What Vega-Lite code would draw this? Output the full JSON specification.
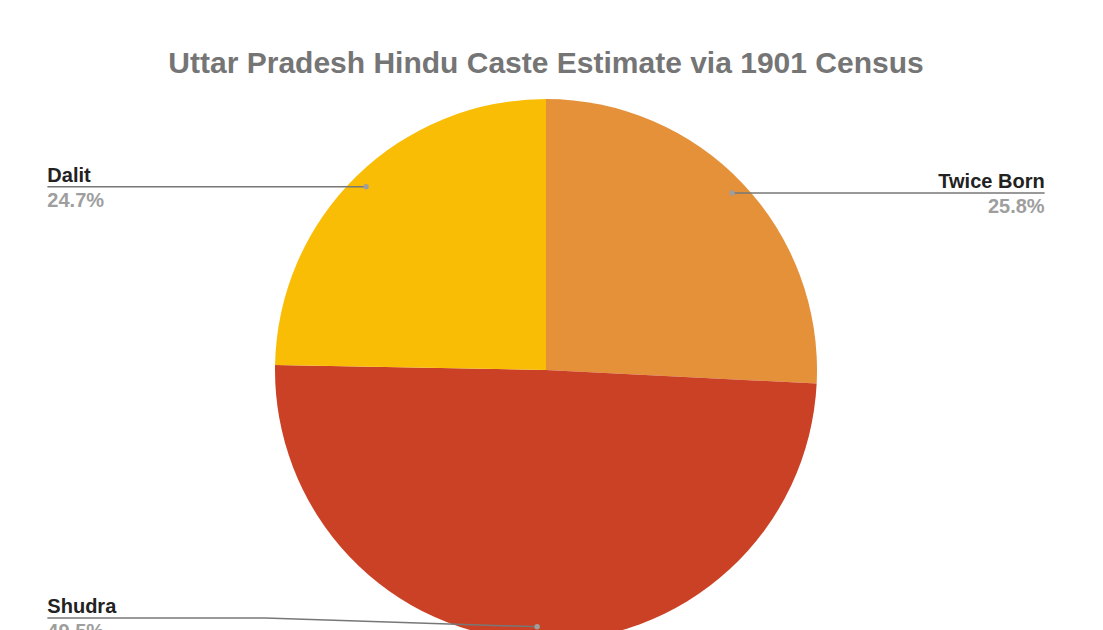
{
  "$schema": "https://vega.github.io/schema/vega-lite/v6.json",
  "width": 1092,
  "height": 540,
  "autosize": {"type": "none"},
  "padding": {"top": 100, "left": 0, "right": 0, "bottom": 0},
  "background": "white",
  "title": {
    "text": "Uttar Pradesh Hindu Caste Estimate via 1901 Census",
    "font": "Liberation Sans",
    "fontSize": 30,
    "fontWeight": "bold",
    "color": "#757575",
    "anchor": "middle",
    "offset": 20
  },
  "config": {"view": {"stroke": null}},
  "data": {
    "values": [
      {"caste": "Twice Born", "share": 25.8},
      {"caste": "Shudra", "share": 49.5},
      {"caste": "Dalit", "share": 24.7}
    ]
  },
  "transform": [
    {"stack": "share", "groupby": [], "sort": [{"field": "caste", "order": "descending"}], "as": ["s0", "s1"]},
    {"joinaggregate": [{"op": "sum", "field": "share", "as": "total"}]},
    {"calculate": "datum.share / datum.total", "as": "frac"},
    {"calculate": "PI * (datum.s0 + datum.s1) / datum.total", "as": "mid"},
    {"calculate": "0.948 * sin(datum.mid)", "as": "px"},
    {"calculate": "0.948 * cos(datum.mid)", "as": "py"},
    {"calculate": "datum.px < 0 ? 'left' : 'right'", "as": "side"},
    {"calculate": "(datum.side == 'left' ? -1 : 1) * 1.84", "as": "lx"},
    {"calculate": "(datum.side == 'left' ? -1 : 1) * 1.037", "as": "ex"},
    {"calculate": "max(datum.py, -0.915)", "as": "ly"}
  ],
  "layer": [
    {
      "mark": {"type": "arc", "outerRadius": 271},
      "encoding": {
        "theta": {"field": "s0", "type": "quantitative", "stack": null, "scale": {"domain": [0, 100]}},
        "theta2": {"field": "s1"},
        "color": {
          "field": "caste",
          "type": "nominal",
          "scale": {"domain": ["Twice Born", "Shudra", "Dalit"], "range": ["#E4913A", "#CB4125", "#F9BD05"]},
          "legend": null
        }
      }
    },
    {
      "mark": {"type": "rule", "color": "#777777", "strokeWidth": 1.5},
      "encoding": {
        "x": {"field": "lx", "type": "quantitative", "scale": {"domain": [-2.0148, 2.0148], "nice": false, "zero": false}, "axis": null},
        "x2": {"field": "ex"},
        "y": {"field": "ly", "type": "quantitative", "scale": {"domain": [-0.99631, 0.99631], "nice": false, "zero": false}, "axis": null},
        "y2": {"field": "ly"}
      }
    },
    {
      "mark": {"type": "rule", "color": "#777777", "strokeWidth": 1.5},
      "encoding": {
        "x": {"field": "ex", "type": "quantitative", "axis": null},
        "x2": {"field": "px"},
        "y": {"field": "ly", "type": "quantitative", "axis": null},
        "y2": {"field": "py"}
      }
    },
    {
      "mark": {"type": "point", "filled": true, "size": 30, "color": "#9E9E9E", "opacity": 1},
      "encoding": {
        "x": {"field": "px", "type": "quantitative", "axis": null},
        "y": {"field": "py", "type": "quantitative", "axis": null}
      }
    },
    {
      "transform": [{"filter": "datum.side == 'left'"}],
      "mark": {"type": "text", "align": "left", "baseline": "alphabetic", "dy": -5, "font": "Liberation Sans", "fontSize": 20, "fontWeight": "bold", "color": "#222222"},
      "encoding": {
        "x": {"field": "lx", "type": "quantitative", "axis": null},
        "y": {"field": "ly", "type": "quantitative", "axis": null},
        "text": {"field": "caste"}
      }
    },
    {
      "transform": [{"filter": "datum.side == 'right'"}],
      "mark": {"type": "text", "align": "right", "baseline": "alphabetic", "dy": -5, "font": "Liberation Sans", "fontSize": 20, "fontWeight": "bold", "color": "#222222"},
      "encoding": {
        "x": {"field": "lx", "type": "quantitative", "axis": null},
        "y": {"field": "ly", "type": "quantitative", "axis": null},
        "text": {"field": "caste"}
      }
    },
    {
      "transform": [{"filter": "datum.side == 'left'"}],
      "mark": {"type": "text", "align": "left", "baseline": "alphabetic", "dy": 20, "font": "Liberation Sans", "fontSize": 20, "fontWeight": "bold", "color": "#9E9E9E"},
      "encoding": {
        "x": {"field": "lx", "type": "quantitative", "axis": null},
        "y": {"field": "ly", "type": "quantitative", "axis": null},
        "text": {"field": "frac", "format": ".1%"}
      }
    },
    {
      "transform": [{"filter": "datum.side == 'right'"}],
      "mark": {"type": "text", "align": "right", "baseline": "alphabetic", "dy": 20, "font": "Liberation Sans", "fontSize": 20, "fontWeight": "bold", "color": "#9E9E9E"},
      "encoding": {
        "x": {"field": "lx", "type": "quantitative", "axis": null},
        "y": {"field": "ly", "type": "quantitative", "axis": null},
        "text": {"field": "frac", "format": ".1%"}
      }
    }
  ]
}
